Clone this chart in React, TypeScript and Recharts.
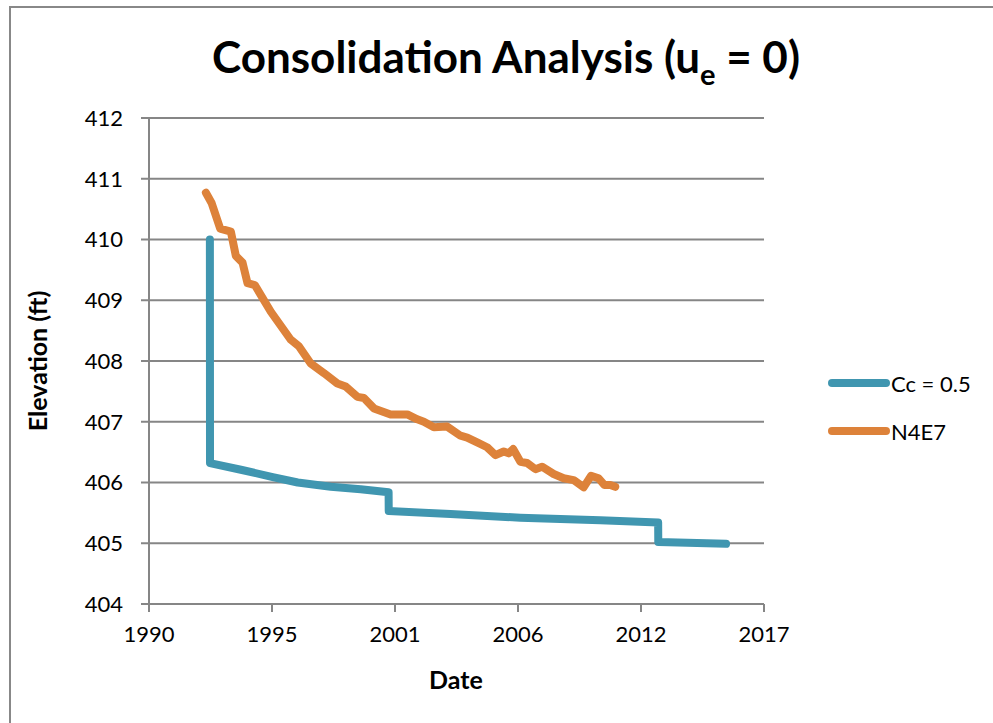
import React from 'react';
import { LineChart, Line, XAxis, YAxis, CartesianGrid } from 'recharts';

// dates are Excel serial day numbers (as in the source workbook)
const ccDates = [33990, 33992, 34494, 35013, 35419, 35955, 36442, 36896, 36898, 37903, 39039, 40338, 41279, 41281, 42383];
const ccElev = [410.0, 406.32, 406.21, 406.09, 406.0, 405.93, 405.89, 405.84, 405.53, 405.48, 405.42, 405.38, 405.34, 405.02, 404.99];

const n4e7Dates = [
  33925, 34018, 34157, 34331, 34412, 34521, 34602, 34721, 34981, 35305, 35440, 35630, 35846, 36063, 36198,
  36388, 36495, 36658, 36929, 37200, 37362, 37469, 37632, 37849, 38065, 38174, 38336, 38498, 38633, 38768,
  38849, 38921, 39039, 39148, 39283, 39391, 39580, 39742, 39904, 40067, 40187, 40310, 40403, 40500, 40581,
];
const n4e7Elev = [
  410.77, 410.6, 410.18, 410.13, 409.73, 409.62, 409.28, 409.25, 408.81, 408.35, 408.24, 407.96, 407.8, 407.63, 407.58,
  407.41, 407.39, 407.22, 407.12, 407.12, 407.04, 407.0, 406.91, 406.92, 406.77, 406.74, 406.66, 406.58, 406.45, 406.51,
  406.48, 406.55, 406.34, 406.32, 406.22, 406.26, 406.14, 406.07, 406.04, 405.92, 406.11, 406.07, 405.96, 405.96, 405.93,
];

const dateTicks = [33000, 35000, 37000, 39000, 41000, 43000];
const elevTicks = [404, 405, 406, 407, 408, 409, 410, 411, 412];

const seriesNames = ['Cc = 0.5', 'N4E7'];
const seriesColors = ['#4096B0', '#DD823A'];

const ccData = ccDates.map((d, i) => ({ date: d, elev: ccElev[i] }));
const n4e7Data = n4e7Dates.map((d, i) => ({ date: d, elev: n4e7Elev[i] }));

const serialYear = (s: number) => new Date(Date.UTC(1899, 11, 30) + s * 86400000).getUTCFullYear();

const FONT = 'Lato, "Open Sans", sans-serif';
const GRID = '#868686';

const App = () => {
  return (
    <div style={{ position: 'absolute', left: 0, top: 0, width: 993, height: 723, overflow: 'hidden', background: '#fff' }}>
      <div style={{ position: 'absolute', left: 9, top: 6, width: 984, height: 717, borderLeft: '2px solid #888', borderTop: '2px solid #888' }} />
      <div style={{ position: 'absolute', left: 0, top: 30, width: 1012, textAlign: 'center', fontFamily: FONT, fontWeight: 700, fontSize: 44, color: '#000', whiteSpace: 'nowrap' }}>
        Consolidation Analysis (u<sub style={{ fontSize: 29, verticalAlign: -12 }}>e</sub> = 0)
      </div>
      <div style={{ position: 'absolute', left: 37, top: 361, transform: 'translate(-50%, -50%) rotate(-90deg)', fontFamily: FONT, fontWeight: 700, fontSize: 25, whiteSpace: 'nowrap' }}>
        Elevation (ft)
      </div>
      <div style={{ position: 'absolute', left: 456, top: 679, transform: 'translate(-50%, -50%)', fontFamily: FONT, fontWeight: 700, fontSize: 25 }}>
        Date
      </div>
      <div style={{ position: 'absolute', left: 828, top: 359, fontFamily: FONT, fontSize: 22, color: '#000' }}>
        {seriesNames.map((n, i) => (
          <div key={n} style={{ display: 'flex', alignItems: 'center', height: 48 }}>
            <span style={{ display: 'inline-block', width: 62, height: 8, borderRadius: 4, background: seriesColors[i] }} />
            <span style={{ marginLeft: 1 }}>{n}</span>
          </div>
        ))}
      </div>
      <LineChart width={993} height={723} margin={{ top: 118, right: 229, bottom: 59, left: 0 }} style={{ position: 'absolute', left: 0, top: 0 }}>
        <CartesianGrid vertical={false} stroke={GRID} strokeWidth={2} horizontalValues={elevTicks} />
        <XAxis
          type="number"
          dataKey="date"
          domain={[33000, 43000]}
          ticks={dateTicks}
          tickFormatter={serialYear}
          height={60}
          stroke={GRID}
          strokeWidth={2}
          tickSize={8}
          tickMargin={14}
          tick={{ fill: '#000', fontSize: 22, fontFamily: FONT }}
          allowDataOverflow
        />
        <YAxis
          type="number"
          domain={[404, 412]}
          ticks={elevTicks}
          width={149}
          stroke={GRID}
          strokeWidth={2}
          tickSize={8}
          tickMargin={18}
          tick={{ fill: '#000', fontSize: 22, fontFamily: FONT }}
        />
        <Line data={ccData} dataKey="elev" name={seriesNames[0]} type="linear" stroke={seriesColors[0]} strokeWidth={8} strokeLinecap="round" strokeLinejoin="round" dot={false} isAnimationActive={false} />
        <Line data={n4e7Data} dataKey="elev" name={seriesNames[1]} type="linear" stroke={seriesColors[1]} strokeWidth={8} strokeLinecap="round" strokeLinejoin="round" dot={false} isAnimationActive={false} />
      </LineChart>
    </div>
  );
};

export default App;
